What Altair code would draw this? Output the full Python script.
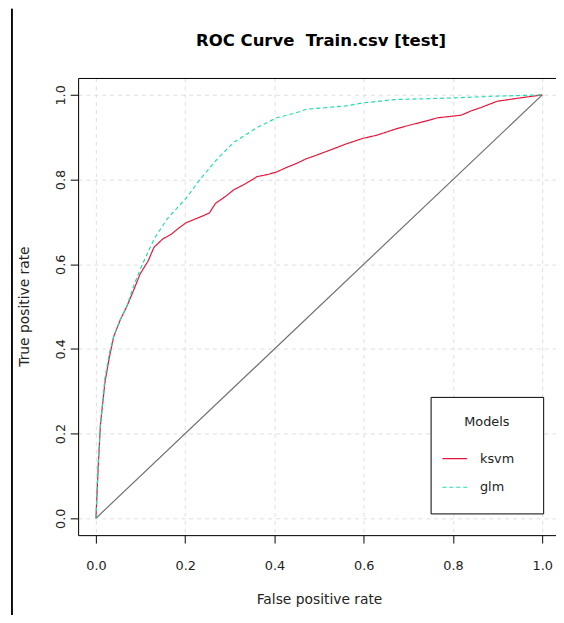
import altair as alt
import pandas as pd

# ---- data ----
ksvm_fpr = [0.0, 0.005, 0.01, 0.02, 0.03, 0.04, 0.055, 0.069, 0.085, 0.099, 0.117, 0.13, 0.139,
            0.15, 0.169, 0.185, 0.202, 0.23, 0.254, 0.268, 0.29, 0.309, 0.335, 0.361, 0.385,
            0.405, 0.43, 0.449, 0.471, 0.50, 0.523, 0.56, 0.597, 0.63, 0.67, 0.704, 0.735,
            0.766, 0.818, 0.84, 0.862, 0.899, 0.951, 1.0]
ksvm_tpr = [0.0, 0.12, 0.22, 0.32, 0.38, 0.43, 0.47, 0.50, 0.54, 0.577, 0.608, 0.64, 0.649,
            0.66, 0.671, 0.685, 0.698, 0.71, 0.721, 0.744, 0.76, 0.776, 0.79, 0.807, 0.812,
            0.818, 0.83, 0.838, 0.849, 0.86, 0.869, 0.884, 0.897, 0.905, 0.919, 0.929, 0.937,
            0.946, 0.952, 0.962, 0.970, 0.985, 0.993, 1.0]

glm_fpr = [0.0, 0.005, 0.01, 0.02, 0.03, 0.04, 0.055, 0.069, 0.085, 0.1, 0.115, 0.132, 0.161,
           0.202, 0.235, 0.272, 0.309, 0.361, 0.405, 0.449, 0.471, 0.56, 0.597, 0.67, 0.803,
           0.892, 1.0]
glm_tpr = [0.0, 0.13, 0.22, 0.33, 0.39, 0.43, 0.47, 0.50, 0.55, 0.59, 0.625, 0.663, 0.709,
           0.756, 0.803, 0.849, 0.888, 0.923, 0.946, 0.958, 0.966, 0.974, 0.981, 0.989, 0.993,
           0.997, 1.0]

models = ["ksvm", "glm"]
model_colors = ["#E3173B", "#1FDDB2"]
diag_x = [0.0, 1.0]
diag_y = [0.0, 1.0]
ticks = [0.0, 0.2, 0.4, 0.6, 0.8, 1.0]

title_text = "ROC Curve\u00a0 Train.csv [test]"

df = pd.DataFrame(
    [{"model": "ksvm", "fpr": f, "tpr": t, "i": i} for i, (f, t) in enumerate(zip(ksvm_fpr, ksvm_tpr))]
    + [{"model": "glm", "fpr": f, "tpr": t, "i": i} for i, (f, t) in enumerate(zip(glm_fpr, glm_tpr))]
)
diag = pd.DataFrame({"fpr": diag_x, "tpr": diag_y})

FONT = "DejaVu Sans"
xscale = alt.Scale(domain=[-0.04, 1.0308], nice=False, zero=False)
yscale = alt.Scale(domain=[-0.04, 1.04], nice=False, zero=False)

x_axis = alt.Axis(values=ticks, format=".1f", tickSize=8, tickColor="black", domainColor="black",
                  labelFontSize=13, labelPadding=17, labelColor="#222", labelFont=FONT,
                  grid=True, gridDash=[4, 4], gridColor="#dedede",
                  title="False positive rate", titleFont=FONT, titleFontSize=14,
                  titleFontWeight="normal", titleColor="#222", titleX=244, titleY=65,
                  titleBaseline="middle", titleAnchor="middle")
y_axis = alt.Axis(values=ticks, format=".1f", tickSize=8, tickColor="black", domainColor="black",
                  labelFontSize=13, labelPadding=3, labelColor="#222", labelFont=FONT,
                  labelAngle=270, labelAlign="center", labelBaseline="bottom",
                  grid=True, gridDash=[4, 4], gridColor="#dedede",
                  title="True positive rate", titleFont=FONT, titleFontSize=14,
                  titleFontWeight="normal", titleColor="#222", titleAngle=270,
                  titleX=-54, titleY=231, titleBaseline="middle", titleAnchor="middle")
top_axis = alt.Axis(orient="top", labels=False, ticks=False, grid=False, title=None,
                    domainColor="black")

legend = alt.Legend(title="Models", orient="none", legendX=357, legendY=323,
                    strokeColor="black", fillColor="white", padding=19, titlePadding=17,
                    rowPadding=8, symbolSize=625, symbolStrokeWidth=1.2, symbolType="stroke",
                    symbolOffset=-8,
                    labelOffset=12, labelFontSize=13, labelFont=FONT, labelColor="#222",
                    titleFontSize=13, titleFont=FONT, titleFontWeight="normal",
                    titleColor="#222", titleAnchor="middle",
                    labelExpr="datum.label + '\u2800'")

diag_layer = alt.Chart(diag).mark_line(color="#707070", strokeWidth=1.2).encode(
    x=alt.X("fpr:Q", scale=xscale, axis=top_axis),
    y=alt.Y("tpr:Q", scale=yscale, axis=y_axis),
)

curves = alt.Chart(df).mark_line(strokeWidth=1.2).encode(
    x=alt.X("fpr:Q", scale=xscale, axis=x_axis),
    y=alt.Y("tpr:Q", scale=yscale, axis=y_axis),
    color=alt.Color("model:N", scale=alt.Scale(domain=models, range=model_colors), legend=legend),
    strokeDash=alt.StrokeDash("model:N", scale=alt.Scale(domain=models, range=[[1, 0], [4, 3]]),
                              legend=legend),
    order="i:Q",
)

edge = alt.Chart(diag).mark_rule(color="black", strokeWidth=1.5).encode(
    x=alt.value(-67), y=alt.value(-70), y2=alt.value(560)
)

chart = alt.layer(diag_layer, curves, edge).resolve_axis(x="independent", y="shared").properties(
    width=484, height=463,
    title=alt.TitleParams(title_text, font=FONT, fontSize=16.7, fontWeight="bold", color="black",
                          anchor="middle", frame="group", baseline="bottom", offset=-59, dx=4),
    autosize=alt.AutoSizeParams(type="none"),
    padding={"left": 71, "top": 67, "right": 0, "bottom": 77},
).configure_view(stroke=None).configure(background="white")

chart.save("out.html", embed_options={"renderer": "svg", "actions": False})
